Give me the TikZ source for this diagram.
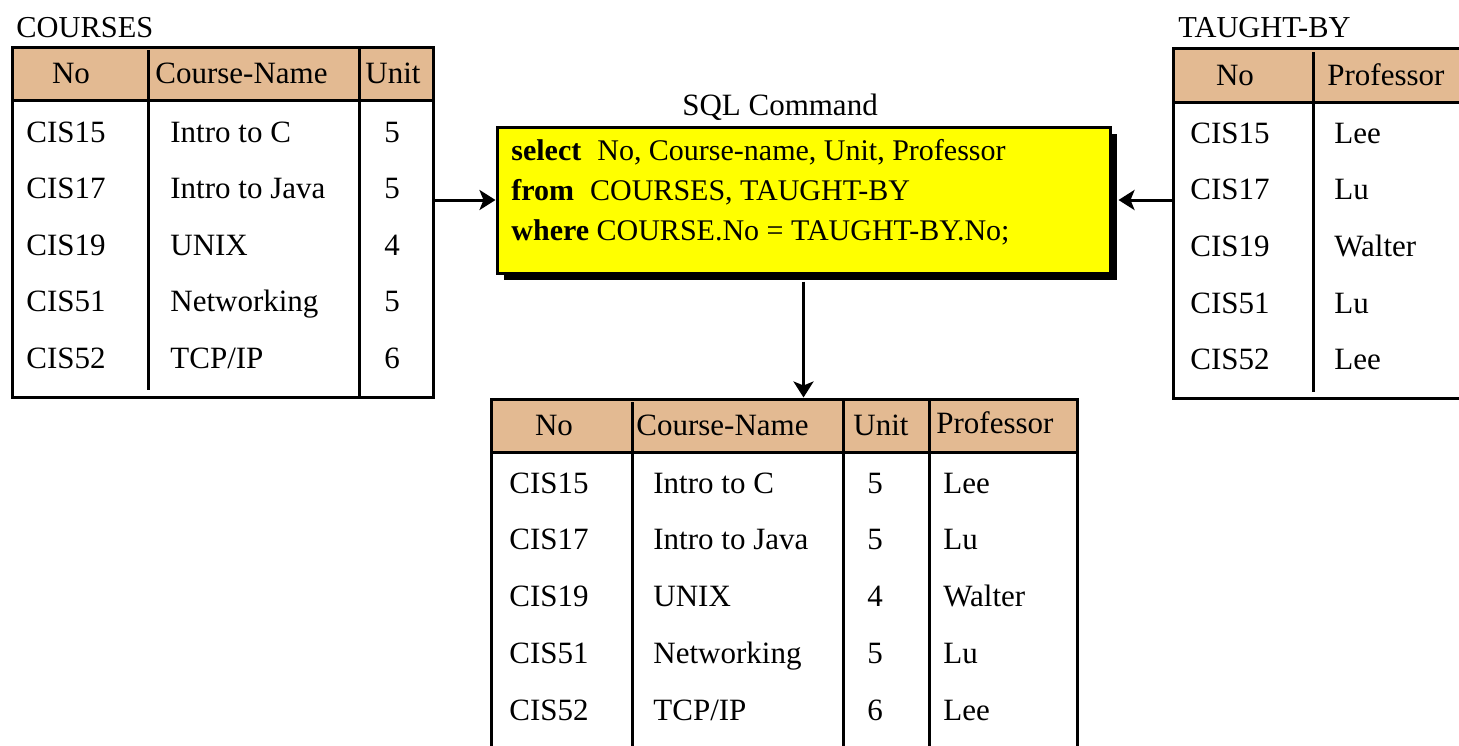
\documentclass[tikz,border=0pt]{standalone}
\usepackage{fontspec}
\setmainfont{Liberation Serif}
\usetikzlibrary{arrows.meta,fit,calc}
\definecolor{headtan}{RGB}{227,186,146}
\definecolor{sqlyellow}{RGB}{255,255,0}
\begin{document}
\begin{tikzpicture}[x=0.5pt,y=-0.5pt,
  rule/.style={line width=1.5pt},
  frame/.style={draw, line width=1.5pt, inner sep=0pt},
  cell/.style={inner sep=0pt, font=\fontsize{15.5}{18}\selectfont},
  caption/.style={inner sep=0pt, font=\fontsize{15.2}{18}\selectfont},
  sqltext/.style={inner sep=0pt, anchor=base west, font=\fontsize{15}{18}\selectfont},
  flow/.style={line width=1.5pt, -{Stealth[length=8pt,width=10pt,inset=2pt]}}]
\useasboundingbox (0,0) rectangle (1459,745);
\clip (0,0) rectangle (1459,745);

% ---------- COURSES ----------
\node[caption, anchor=base west] (coursescap) at (16,37) {COURSES};
\fill[headtan] (12,47) rectangle (433,100);
\draw[rule] (12,100) -- (433,100);
\draw[rule] (148,50) -- (148,390);
\draw[rule] (359,47) -- (359,397);
\node[frame, fit={(12,47)(433,397)}] (courses) {};
\node[cell, anchor=base] (chno) at (71,83) {No};
\node[cell, anchor=base west] (chname) at (155,83) {Course-Name};
\node[cell, anchor=base west] (chunit) at (365,83) {Unit};
\foreach \n/\c/\u [count=\i from 0] in {CIS15/Intro to C/5,%
CIS17/Intro to Java/5,CIS19/UNIX/4,CIS51/Networking/5,CIS52/TCP\slash IP/6}{
  \node[cell, anchor=base west] (cno\i) at (26,{142+56.5*\i}) {\n};
  \node[cell, anchor=base west] (cname\i) at (170,{142+56.5*\i}) {\c};
  \node[cell, anchor=base] (cunit\i) at (392,{142+56.5*\i}) {\u};
}

% ---------- TAUGHT-BY ----------
\node[caption, anchor=base west] (taughtcap) at (1178,37) {TAUGHT-BY};
\fill[headtan] (1173,48) rectangle (1475,102);
\draw[rule] (1173,102) -- (1475,102);
\draw[rule] (1313,52) -- (1313,392);
\node[frame, fit={(1173,48)(1475,398)}] (taught) {};
\node[cell, anchor=base] (thno) at (1235,85) {No};
\node[cell, anchor=base west] (thprof) at (1327,85) {Professor};
\foreach \n/\p [count=\i from 0] in {CIS15/Lee,CIS17/Lu,CIS19/Walter,CIS51/Lu,CIS52/Lee}{
  \node[cell, anchor=base west] (tno\i) at (1190,{143+56.7*\i}) {\n};
  \node[cell, anchor=base west] (tprof\i) at (1334,{143+56.7*\i}) {\p};
}

% ---------- SQL command ----------
\node[caption, anchor=base, font=\fontsize{15.5}{18}\selectfont] (sqlcap) at (780,115) {SQL Command};
\fill (504,134) rectangle (1117,280);
\node[frame, fill=sqlyellow, fit={(497,127)(1110,273)}] (sql) {};
\node[sqltext] (sql1) at (511,160) {\textbf{select}\kern8pt No, Course-name, Unit, Professor};
\node[sqltext] (sql2) at (511,200) {\textbf{from}\kern8pt COURSES, TAUGHT-BY};
\node[sqltext] (sql3) at (511,240) {\textbf{where} COURSE.No = TAUGHT-BY.No;};

% ---------- result ----------
\fill[headtan] (491,399) rectangle (1077,452);
\draw[rule] (491,452) -- (1077,452);
\draw[rule] (632,402) -- (632,760);
\draw[rule] (843,399) -- (843,760);
\draw[rule] (929,399) -- (929,760);
\node[frame, fit={(491,399)(1077,760)}] (result) {};
\node[cell, anchor=base] (rhno) at (554,435) {No};
\node[cell, anchor=base west] (rhname) at (636,435) {Course-Name};
\node[cell, anchor=base west] (rhunit) at (853,435) {Unit};
\node[cell, anchor=base west] (rhprof) at (936,433) {Professor};
\foreach \n/\c/\u/\p [count=\i from 0] in {CIS15/Intro to C/5/Lee,%
CIS17/Intro to Java/5/Lu,CIS19/UNIX/4/Walter,CIS51/Networking/5/Lu,CIS52/TCP\slash IP/6/Lee}{
  \node[cell, anchor=base west] (rno\i) at (509,{493+56.75*\i}) {\n};
  \node[cell, anchor=base west] (rname\i) at (653,{493+56.75*\i}) {\c};
  \node[cell, anchor=base] (runit\i) at (875,{493+56.75*\i}) {\u};
  \node[cell, anchor=base west] (rprof\i) at (943,{493+56.75*\i}) {\p};
}

% ---------- connectors ----------
\draw[flow] (sql.west -| courses.east) -- (sql.west);
\draw[flow] (sql.east -| taught.west) -- ($(sql.east)+(7,0)$);
\draw[flow] ($(sql.south)+(0,7)$) -- (sql.south |- result.north);
\end{tikzpicture}
\end{document}
